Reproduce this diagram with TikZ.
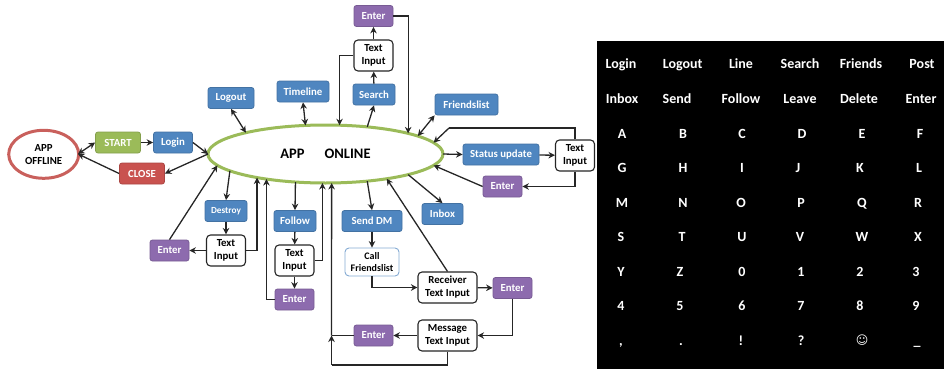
\documentclass[tikz,border=0pt]{standalone}
\usepackage{fontspec}
\setmainfont{Carlito}
\newfontfamily\symfont{DejaVu Sans}
\usetikzlibrary{arrows.meta,shapes.geometric}

\definecolor{boxblue}{HTML}{4F86C0}
\definecolor{boxgreen}{HTML}{9BBB59}
\definecolor{boxred}{HTML}{C9524F}
\definecolor{boxpurple}{HTML}{8D6BAE}
\definecolor{ringred}{HTML}{C9605C}
\definecolor{wire}{HTML}{262626}

\tikzset{
  x=1pt, y=-1pt,
  every node/.style={font=\bfseries\fontsize{10.8}{13}\selectfont, align=center, inner sep=0pt},
  colbox/.style={draw=#1!85!black, fill=#1, text=white, rounded corners=2.5pt, line width=0.8pt},
  bluebox/.style={colbox=boxblue},
  greenbox/.style={colbox=boxgreen},
  redbox/.style={colbox=boxred},
  purplebox/.style={colbox=boxpurple, minimum width=39pt, minimum height=21pt},
  inputbox/.style={draw=wire, fill=white, text=black, rounded corners=4pt, line width=1.1pt, minimum width=39pt, minimum height=31pt},
  wbox/.style 2 args={minimum width=#1pt, minimum height=#2pt},
  arw/.style={draw=wire, line width=1.3pt, -{Stealth[length=6.5pt,width=6.5pt]}},
  darw/.style={draw=wire, line width=1.3pt, {Stealth[length=6.5pt,width=6.5pt]}-{Stealth[length=6.5pt,width=6.5pt]}},
  line/.style={draw=wire, line width=1.3pt},
  keyw/.style={text=white, anchor=base, font=\bfseries\fontsize{14}{16}\selectfont}
}

\begin{document}
\begin{tikzpicture}

\useasboundingbox (0,0) rectangle (944,369);

% The two ellipses
\node[ellipse, draw=ringred, line width=3pt, fill=white, minimum width=70pt, minimum height=48pt, font=\bfseries\fontsize{10.8}{13}\selectfont] (offline) at (43.7,154.3) {APP\\OFFLINE};
\node[ellipse, draw=boxgreen, line width=3pt, fill=white, minimum width=235pt, minimum height=58pt, outer sep=0pt, font=\bfseries\fontsize{14.5}{16}\selectfont] (online) at (325.5,154) {APP\hspace{20pt}ONLINE};

% Left side
\node[greenbox, wbox={45}{21}] (startb) at (118,142.5) {START};
\node[bluebox, wbox={39}{21}] (login) at (173,142.5) {Login};
\node[redbox, wbox={45}{21}] (closeb) at (142,173.5) {CLOSE};

% Top side
\node[bluebox, wbox={46}{21}] (logout) at (231,98) {Logout};
\node[bluebox, wbox={52}{21}] (timeline) at (303,91.5) {Timeline};
\node[bluebox, wbox={42}{21}] (search) at (374,94.5) {Search};
\node[inputbox] (txtsearch) at (373.5,55.5) {Text\\Input};
\node[purplebox] (entsearch) at (373.5,16) {Enter};
\node[bluebox, wbox={63}{21}] (friends) at (466.5,104.5) {Friendslist};

% Right side
\node[bluebox, wbox={76}{21}] (status) at (501,154.5) {Status update};
\node[inputbox] (txtstatus) at (575,155.5) {Text\\Input};
\node[purplebox] (entstatus) at (502.5,186.5) {Enter};
\node[bluebox, wbox={41}{21}] (inbox) at (442.5,214) {Inbox};

% Send DM branch
\node[bluebox, wbox={60}{21}] (senddm) at (372,221) {Send DM};
\node[draw=boxblue!70, fill=white, text=black, rounded corners=4pt, line width=0.9pt, wbox={54}{28}, font=\bfseries\fontsize{10}{12}\selectfont] (callfr) at (372,262) {Call\\Friendslist};
\node[inputbox, wbox={59}{31}] (receiver) at (447.5,287.5) {Receiver\\Text Input};
\node[purplebox] (entrecv) at (512.5,288) {Enter};
\node[inputbox, wbox={59}{31}] (message) at (447.5,335.5) {Message\\Text Input};
\node[purplebox] (entmsg) at (373.5,335.5) {Enter};

% Follow branch
\node[bluebox, wbox={42}{21}] (follow) at (295,221) {Follow};
\node[inputbox] (txtfollow) at (294.5,260.5) {Text\\Input};
\node[purplebox] (entfollow) at (294.5,299.5) {Enter};

% Destroy branch
\node[bluebox, wbox={42}{21}, font=\bfseries\fontsize{9.3}{11}\selectfont] (destroy) at (226,211) {Destroy};
\node[inputbox] (txtdestroy) at (226,250.5) {Text\\Input};
\node[purplebox] (entdestroy) at (169.5,250.5) {Enter};

% Free corners of the connectors
\coordinate (cornerstatus) at (449,128);
\coordinate (bottommsg) at (331.5,365);
\coordinate (joinmsg) at (331.5,335.5);
\coordinate (offin) at (78,154);

% Connectors on the left
\draw[darw] (offin) -- (startb.west);
\draw[arw] (closeb.west) -- (offin);
\draw[arw] (startb) -- (login);
\draw[arw] (login.east) -- (online.west);
\draw[arw] (online.west) -- (closeb.east);

% Connectors on the top
\draw[darw] (logout.south) -- (online.165.7);
\draw[darw] (timeline.south) -- (online.125.6);
\draw[arw] (online.33.1) -- (search.south);
\draw[arw] (search) -- (txtsearch);
\draw[arw] (txtsearch) -- (entsearch);
\draw[arw] (txtsearch.west) -| (online.64);
\draw[arw] (entsearch.east) -| (online.14);
\draw[darw] (friends.south west) -- (online.11.5);

% Connectors on the right
\draw[arw] (online.east) -- (status.west);
\draw[arw] (status) -- (txtstatus);
\draw[line] (txtstatus.north) |- (cornerstatus);
\draw[arw] (cornerstatus) -- (online.6.4);
\draw[arw] (txtstatus.south) |- (entstatus.east);
\draw[arw] (entstatus.west) -- (online.-6.1);
\draw[arw] (online.-14.6) -- (inbox.north);

% Connectors of Send DM
\draw[arw] (online.-33) -- (senddm.north);
\draw[arw] (senddm) -- (callfr);
\draw[arw] (callfr.south) |- (receiver.west);
\draw[arw] (receiver.north) -- (online.-22.6);
\draw[arw] (receiver) -- (entrecv);
\draw[arw] (entrecv.south) |- (message.east);
\draw[arw] (message) -- (entmsg);
\draw[line] (entmsg.west) -- (joinmsg);
\draw[line] (message.south) |- (bottommsg);
\draw[arw] (bottommsg) -- (joinmsg);
\draw[arw] (joinmsg) -- (online.-78.3);

% Connectors of Follow
\draw[arw] (online.-137.4) -- (follow.north);
\draw[arw] (follow) -- (txtfollow);
\draw[arw] (txtfollow) -- (entfollow);
\draw[arw] (txtfollow.east) -| (online.-96.9);
\draw[arw] (entfollow.west) -| (online.-157.6);

% Connectors of Destroy
\draw[arw] (online.-170) -- (destroy.north);
\draw[arw] (destroy) -- (txtdestroy);
\draw[arw] (txtdestroy) -- (entdestroy);
\draw[arw] (txtdestroy.east) -| (online.-161.2);
\draw[arw] (entdestroy.north) -- (online.-174.9);

% Black keyboard panel
\fill[black] (597,41) rectangle (944,369);

% Row 1
\node[keyw] (kLogin) at (621,68.5) {Login};
\node[keyw] (kLogout) at (682.7,68.5) {Logout};
\node[keyw] (kLine) at (741,68.5) {Line};
\node[keyw] (kSearch) at (800,68.5) {Search};
\node[keyw] (kFriends) at (861,68.5) {Friends};
\node[keyw] (kPost) at (922,68.5) {Post};

% Row 2
\node[keyw] (kInbox) at (622,103.5) {Inbox};
\node[keyw] (kSend) at (677,103.5) {Send};
\node[keyw] (kFollow) at (741,103.5) {Follow};
\node[keyw] (kLeave) at (800,103.5) {Leave};
\node[keyw] (kDelete) at (859,103.5) {Delete};
\node[keyw] (kEnter) at (921,103.5) {Enter};

% Row 3
\node[keyw] (kA) at (622,138) {A};
\node[keyw] (kB) at (683,138) {B};
\node[keyw] (kC) at (742,138) {C};
\node[keyw] (kD) at (802,138) {D};
\node[keyw] (kE) at (862,138) {E};
\node[keyw] (kF) at (920,138) {F};

% Row 4
\node[keyw] (kG) at (622,172.5) {G};
\node[keyw] (kH) at (683,172.5) {H};
\node[keyw] (kI) at (742,172.5) {I};
\node[keyw] (kJ) at (798,172.5) {J};
\node[keyw] (kK) at (860,172.5) {K};
\node[keyw] (kL) at (919,172.5) {L};

% Row 5
\node[keyw] (kM) at (622,207) {M};
\node[keyw] (kN) at (683,207) {N};
\node[keyw] (kO) at (741,207) {O};
\node[keyw] (kP) at (801,207) {P};
\node[keyw] (kQ) at (862,207) {Q};
\node[keyw] (kR) at (918,207) {R};

% Row 6
\node[keyw] (kS) at (621,241.5) {S};
\node[keyw] (kT) at (682,241.5) {T};
\node[keyw] (kU) at (742,241.5) {U};
\node[keyw] (kV) at (800,241.5) {V};
\node[keyw] (kW) at (862,241.5) {W};
\node[keyw] (kX) at (918,241.5) {X};

% Row 7
\node[keyw] (kY) at (621,276) {Y};
\node[keyw] (kZ) at (680,276) {Z};
\node[keyw] (kzero) at (742,276) {0};
\node[keyw] (kone) at (801,276) {1};
\node[keyw] (ktwo) at (860,276) {2};
\node[keyw] (kthree) at (916,276) {3};

% Row 8
\node[keyw] (kfour) at (621,310.5) {4};
\node[keyw] (kfive) at (680,310.5) {5};
\node[keyw] (ksix) at (742,310.5) {6};
\node[keyw] (kseven) at (801,310.5) {7};
\node[keyw] (keight) at (860,310.5) {8};
\node[keyw] (knine) at (916,310.5) {9};

% Row 9
\node[keyw] (kcomma) at (621,345) {,};
\node[keyw] (kdot) at (681,345) {.};
\node[keyw] (kbang) at (741,345) {!};
\node[keyw] (kquest) at (801,345) {?};
\node[keyw, font=\symfont\fontsize{12}{14}\selectfont] (ksmile) at (862,344) {☺};
\node[keyw] (kunder) at (917,345) {\_};

\end{tikzpicture}
\end{document}
